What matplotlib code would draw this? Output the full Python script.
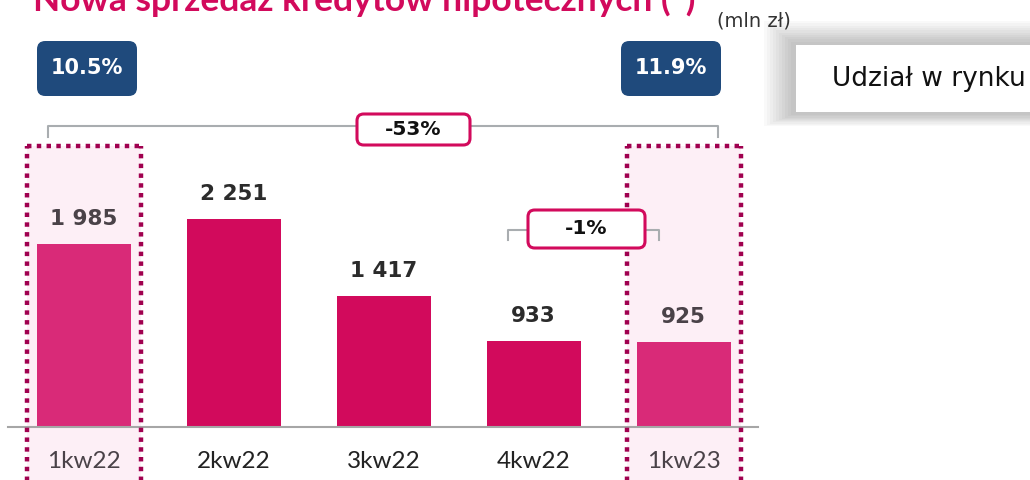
import numpy as np
import matplotlib.pyplot as plt
from matplotlib.patches import FancyBboxPatch, Rectangle

categories = ["1kw22", "2kw22", "3kw22", "4kw22", "1kw23"]
values = [1985, 2251, 1417, 933, 925]
value_labels = ["1 985", "2 251", "1 417", "933", "925"]
highlight = [True, False, False, False, True]
shares = {0: "10.5%", 4: "11.9%"}

W, H = 1030, 480
fig = plt.figure(figsize=(W / 100, H / 100), dpi=100)
ax = fig.add_axes([0, 0, 1, 1])
ax.axis("off")

# data coords: bar centre 0 at px 83.5, 150 px per bar, baseline at 427 px from top
xscale = 150.0
yscale = 0.0924
base_px = 427
ax.set_xlim(-83.5 / xscale, (W - 83.5) / xscale)
ax.set_ylim(-(H - base_px) / yscale, base_px / yscale)
ASPECT = xscale / yscale


def px(x, y):
    # pixel (top-left origin) -> data coords
    return (x - 83.5) / xscale, (base_px - y) / yscale


MAG = "#d20a5c"
MAG_L = "#d92a78"
PINK_BG = "#fdeff6"
DOT = "#a0004f"
BLUE = "#1f4a7c"
GRAY = "#a9adb0"

x = np.arange(len(categories))
bw = 94 / xscale

# highlight boxes
for i, h in enumerate(highlight):
    if h:
        x0, y0 = px(27, 146)
        x1, y1 = px(141, 485)
        cx = x0 + i
        ax.add_patch(Rectangle((cx, y1), x1 - x0, y0 - y1, facecolor=PINK_BG,
                               edgecolor="none", zorder=0))
        for xx in (cx, cx + (x1 - x0)):
            ax.plot([xx, xx], [y1, y0], color=DOT, lw=3.2, ls=(0, (1, 1.2)),
                    zorder=4, dash_capstyle="butt")
        ax.plot([cx, cx + (x1 - x0)], [y0, y0], color=DOT, lw=3.2,
                ls=(0, (1, 1.2)), zorder=4, dash_capstyle="butt")

colors = [MAG_L if h else MAG for h in highlight]
ax.bar(x, values, width=bw, color=colors, zorder=2)

# axis line
xa0, ya = px(8, 427)
xa1, _ = px(758, 427)
ax.plot([xa0, xa1], [0, 0], color="#a6a6a6", lw=1.5, zorder=3)

for i, (v, lab) in enumerate(zip(values, value_labels)):
    c = "#4a4248" if highlight[i] else "#2b2b2b"
    ax.text(i, v + 160, lab, ha="center", va="bottom", fontsize=15.5,
            fontweight="bold", color=c, family="DejaVu Sans", zorder=5)
    ax.text(i, -375, categories[i], ha="center", va="center", fontsize=17.5,
            color="#4a4248" if highlight[i] else "#222222", family="Lato", zorder=5)

# market share badges
for i, s in shares.items():
    shift = 16 if i == 4 else 0
    bx0, by0 = px(37 + 150 * i - shift, 41)
    bx1, by1 = px(137 + 150 * i - shift, 96)
    ax.add_patch(FancyBboxPatch((bx0, by1), bx1 - bx0, by0 - by1,
                                boxstyle="round,pad=0,rounding_size=0.055",
                                mutation_aspect=ASPECT,
                                facecolor=BLUE, edgecolor="none", zorder=5))
    ax.text((bx0 + bx1) / 2, (by0 + by1) / 2, s, ha="center", va="center",
            color="white", fontsize=15, fontweight="bold", family="DejaVu Sans", zorder=6)


def bracket(xl, xr, ytop, ybot, box, label):
    a0, b0 = px(xl, ytop)
    a1, b1 = px(xr, ybot)
    ax.plot([a0, a0, a1, a1], [b1, b0, b0, b1], color=GRAY, lw=1.5, zorder=4)
    c0, d0 = px(box[0], box[1])
    c1, d1 = px(box[2], box[3])
    ax.add_patch(FancyBboxPatch((c0, d1), c1 - c0, d0 - d1,
                                boxstyle="round,pad=0,rounding_size=0.045",
                                mutation_aspect=ASPECT,
                                facecolor="white", edgecolor=MAG, lw=2.2, zorder=5))
    ax.text((c0 + c1) / 2, (d0 + d1) / 2, label, ha="center", va="center",
            fontsize=14.5, fontweight="bold", color="#111111", family="DejaVu Sans", zorder=6)


bracket(48, 718, 126, 137, (357, 114, 470, 145), "-53%")
bracket(508, 659, 230, 240, (528, 210, 645, 248), "-1%")

# title (cut at top as in the source slide) and unit
fig.text(33 / W, 1 - 11 / H, "Nowa sprzedaż kredytów hipotecznych (*)",
         fontsize=25.5, fontweight="bold", color=MAG, family="Lato", va="baseline")
fig.text(717 / W, 1 - 21 / H, "(mln zł)", fontsize=14, color="#333333",
         family="DejaVu Sans", va="center")

# label box with soft shadow
for k in range(10, 0, -1):
    fig.patches.append(Rectangle(((794 - k * 3) / W, 1 - (114 + k * 1.2) / H),
                                 (260 + k * 4) / W, (70 + k * 3.5) / H,
                                 transform=fig.transFigure, facecolor="#000000",
                                 alpha=0.022, edgecolor="none", zorder=1))
fig.patches.append(Rectangle((796 / W, 1 - 112 / H), 240 / W, 67 / H,
                             transform=fig.transFigure, facecolor="white",
                             edgecolor="none", zorder=2))
fig.text(832 / W, 1 - 79 / H, "Udział w rynku", fontsize=19, color="#111111",
         family="DejaVu Sans", va="center", zorder=3)

fig.savefig("out.png", dpi=100)
